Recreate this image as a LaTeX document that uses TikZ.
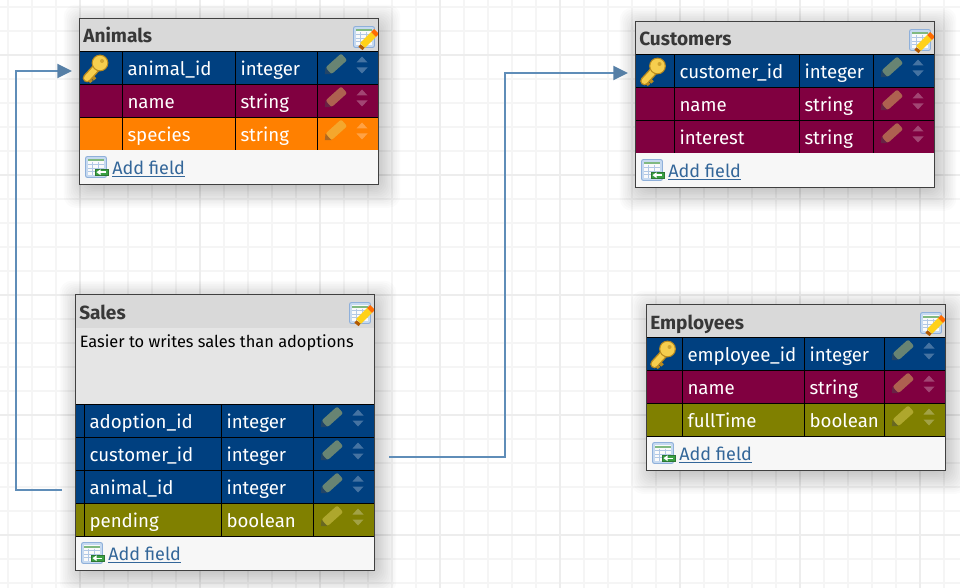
\documentclass[tikz,border=0pt]{standalone}
\usepackage{fontspec}
\setmainfont{Fira Sans}
\usetikzlibrary{arrows.meta}

\definecolor{keyblue}{HTML}{004080}
\definecolor{strmaroon}{HTML}{800040}
\definecolor{speciesorange}{HTML}{FF8000}
\definecolor{boololive}{HTML}{808000}
\definecolor{linkblue}{HTML}{336699}
\definecolor{relblue}{HTML}{5F8DB8}
\definecolor{pencilbody}{HTML}{E8D864}
\definecolor{keygold}{HTML}{F6CE4E}
\definecolor{keyedge}{HTML}{B98A1E}
\definecolor{sheetblue}{HTML}{C5D9F0}
\definecolor{sheetedge}{HTML}{8FB0DA}
\definecolor{addgreen}{HTML}{3AA043}

\tikzset{
    cell/.style={draw=black, line width=0.8pt, inner ysep=0pt, inner xsep=3.75pt, outer sep=0pt, anchor=north west,
        minimum height=24.75pt, text height=14pt, text depth=2.8pt, align=left, text=white,
        font=\fontsize{14}{16}\selectfont},
    titlebar/.style={fill=black!15, draw=none},
    titletext/.style={anchor=base west, inner sep=0pt, text=black!78, font=\fontsize{14.3}{16}\selectfont\bfseries},
    addlink/.style={anchor=base west, inner sep=0pt, text=linkblue, font=\fontsize{13.5}{16}\selectfont},
    tableedge/.style={draw=black!75, line width=1pt},
    rel/.style={draw=relblue, line width=1.5pt, -{Triangle[length=11pt, width=10.5pt, color=relblue!90!black]}},
    gridminor/.style={draw=black!4, line width=1.2pt},
    gridmajor/.style={draw=black!7, line width=1.4pt},
    keyicon/.pic={
        \draw[line width=6.5pt, line cap=round, draw=keyedge] (2,-3) -- (-9,9);
        \draw[line width=2.6pt, draw=keyedge] (-5,6) -- (-1,10.5);
        \draw[line width=2.6pt, draw=keyedge] (-8,9) -- (-4.5,13);
        \draw[line width=4.4pt, line cap=round, draw=keygold] (2,-3) -- (-9,9);
        \fill[keyedge] (4,-6) circle (8.4);
        \fill[keygold] (4,-6) circle (7.2);
        \fill[keyedge!60!keygold] (6,-8) circle (2);
    },
    pencilicon/.pic={
        \begin{scope}[rotate=42]
            \fill[black!70, opacity=0.45] (-13,0) -- (-8,-4.5) -- (-8,4.5) -- cycle;
            \fill[pencilbody, opacity=0.45, rounded corners=1.5pt] (-8,-4.5) rectangle (13,4.5);
        \end{scope}
    },
    movearrows/.pic={
        \fill[white, opacity=0.27] (-5.5,11) -- (0,5) -- (5.5,11) -- cycle;
        \fill[white, opacity=0.27] (-5.5,16) -- (0,22) -- (5.5,16) -- cycle;
    },
    sheeticon/.pic={
        \fill[sheetblue, draw=sheetedge, rounded corners=1.5pt, line width=0.7pt] (0,0) rectangle (21,21);
        \fill[black!2] (2.5,2.5) rectangle (18.5,18.5);
        \fill[green!45!black!50!white] (2.5,3) rectangle (18.5,5);
        \foreach \gy in {8,11.5,15} \draw[sheetedge!70!white, line width=0.5pt] (2.5,\gy) -- (18.5,\gy);
        \foreach \gx in {7,12.5} \draw[sheetedge!70!white, line width=0.5pt] (\gx,6) -- (\gx,18.5);
    },
    editicon/.pic={
        \pic at (0,0) {sheeticon};
        \draw[line width=5.2pt, draw=orange!40!yellow!90!white] (9,19) -- (20,8);
        \draw[line width=4pt, draw=orange!70!black] (7,22) -- (9,19.5);
        \draw[line width=5.2pt, draw=orange!85!red] (20,8) -- (23,5);
    },
    addicon/.pic={
        \pic at (0,0) {sheeticon};
        \fill[addgreen, draw=addgreen!75!black, line width=0.4pt] (10,12.5) rectangle (23,19);
        \fill[white] (11,15.7) -- (15,12.8) -- (15,18.6) -- cycle;
        \fill[white] (14,15) rectangle (20,16.4);
    }
}

\newcommand{\dbcols}[5]{\def\xa{#1}\def\xb{#2}\def\xc{#3}\def\xd{#4}\def\xe{#5}}
\newcommand{\dbcell}[5]{%
    \pgfmathsetlengthmacro{\cellw}{(#3-#2)*0.75}%
    \pgfmathsetlengthmacro{\cellt}{(#3-#2)*0.75-7.5}%
    \node[cell, fill=#4, minimum width=\cellw, text width=\cellt] (#1) at (#2,\rowtop) {#5};%
}
\newcommand{\dbrow}[6]{%
    \def\rowtop{#2}%
    \dbcell{#1Key}{\xa}{\xb}{#3}{}%
    \dbcell{#1}{\xb}{\xc}{#3}{#4}%
    \dbcell{#1Type}{\xc}{\xd}{#3}{#5}%
    \dbcell{#1Tools}{\xd}{\xe}{#3}{}%
    \pic at ([shift={(17,-2.5)}]#1Tools.west) {pencilicon};
    \pic at ([shift={(44.5,-16.5)}]#1Tools.west) {movearrows};
    #6%
}
\newcommand{\dbshadow}[4]{%
    \foreach \s in {1,...,14}
        \fill[black, opacity=0.017, rounded corners=9pt] (#1+3-\s*1.7+5,#2+5-\s*1.7+5) rectangle (#3+3+\s*1.7-5,#4+5+\s*1.7-5);
}
\newcommand{\dbtitle}[3]{%
    \fill[titlebar] (\xa,#2) rectangle (\xe,#2+33);
    \node[titletext] (#1) at (\xa+3.5,#2+24.5) {#3};
    \pic at (\xe-25,#2+8) {editicon};
}
\newcommand{\dbfooter}[2]{%
    \fill[black!3] (\xa,#2) rectangle (\xe,#2+34);
    \pic at (\xa+6,#2+6) {addicon};
    \node[addlink] (#1) at (\xa+32.5,#2+24) {\underline{Add field}};
}

\begin{document}
\begin{tikzpicture}[x=0.75pt, y=-0.75pt]
    \useasboundingbox (0,0) rectangle (960,588);
    \fill[white] (0,0) rectangle (960,588);

    % background grid
    \foreach \gx in {8,32,56,104,128,152,176,224,248,272,296,344,368,392,416,464,488,512,536,584,608,632,656,704,728,752,776,824,848,872,896,944}
        \draw[gridminor] (\gx,0) -- (\gx,588);
    \foreach \gy in {7,31,79,103,127,151,199,223,247,271,319,343,367,391,439,463,487,511,559,583}
        \draw[gridminor] (0,\gy) -- (960,\gy);
    \foreach \gx in {80,200,320,440,560,680,800,920}
        \draw[gridmajor] (\gx,0) -- (\gx,588);
    \foreach \gy in {55,175,295,415,535}
        \draw[gridmajor] (0,\gy) -- (960,\gy);

    % Animals
    \dbcols{79.5}{122.5}{235.5}{317.5}{378.5}
    \dbshadow{79.5}{18.5}{378.5}{184}
    \dbtitle{animalsTitle}{18.5}{Animals}
    \dbrow{animalsId}{51.5}{keyblue}{animal\_id}{integer}{\pic at ([shift={(16.5,1)}]animalsIdKey.west) {keyicon};}
    \dbrow{animalsName}{84.5}{strmaroon}{name}{string}{}
    \dbrow{animalsSpecies}{117.5}{speciesorange}{species}{string}{}
    \dbfooter{animalsAdd}{150.5}
    \draw[tableedge] (79.5,18.5) rectangle (378.5,184.5);

    % Customers
    \dbcols{635.5}{674.5}{799.5}{873.5}{934.5}
    \dbshadow{635.5}{21.5}{934.5}{187}
    \dbtitle{customersTitle}{21.5}{Customers}
    \dbrow{customersId}{54.5}{keyblue}{customer\_id}{integer}{\pic at ([shift={(18,1)}]customersIdKey.west) {keyicon};}
    \dbrow{customersName}{87.5}{strmaroon}{name}{string}{}
    \dbrow{customersInterest}{120.5}{strmaroon}{interest}{string}{}
    \dbfooter{customersAdd}{153.5}
    \draw[tableedge] (635.5,21.5) rectangle (934.5,187.5);

    % Employees
    \dbcols{646.5}{682.5}{804.5}{884.5}{945.5}
    \dbshadow{646.5}{304.5}{945.5}{470}
    \dbtitle{employeesTitle}{304.5}{Employees}
    \dbrow{employeesId}{337.5}{keyblue}{employee\_id}{integer}{\pic at ([shift={(17,1)}]employeesIdKey.west) {keyicon};}
    \dbrow{employeesName}{370.5}{strmaroon}{name}{string}{}
    \dbrow{employeesFull}{403.5}{boololive}{fullTime}{boolean}{}
    \dbfooter{employeesAdd}{436.5}
    \draw[tableedge] (646.5,304.5) rectangle (945.5,470.5);

    % Sales
    \dbcols{75.5}{84.5}{221.5}{313.5}{374.5}
    \dbshadow{75.5}{294.5}{374.5}{570}
    \dbtitle{salesTitle}{294.5}{Sales}
    \fill[black!10] (75.5,327.5) rectangle (374.5,404.5);
    \node[anchor=base west, inner sep=0pt, font=\fontsize{12.3}{15}\selectfont] (salesNote) at (79.5,347) {Easier to writes sales than adoptions};
    \dbrow{salesAdoption}{404.5}{keyblue}{adoption\_id}{integer}{}
    \dbrow{salesCustomer}{437.5}{keyblue}{customer\_id}{integer}{}
    \dbrow{salesAnimal}{470.5}{keyblue}{animal\_id}{integer}{}
    \dbrow{salesPending}{503.5}{boololive}{pending}{boolean}{}
    \dbfooter{salesAdd}{536.5}
    \draw[tableedge] (75.5,294.5) rectangle (374.5,570.5);

    % relations
    \draw[rel] ([shift={(-22.5,2.5)}]salesAnimal.west) -- ++(-46,0) |- ([shift={(-7.5,3)}]animalsIdKey.west);
    \draw[rel] ([shift={(14.5,2.5)}]salesCustomerTools.east) -- ++(115.5,0) |- ([shift={(-7.5,2)}]customersIdKey.west);
\end{tikzpicture}
\end{document}
